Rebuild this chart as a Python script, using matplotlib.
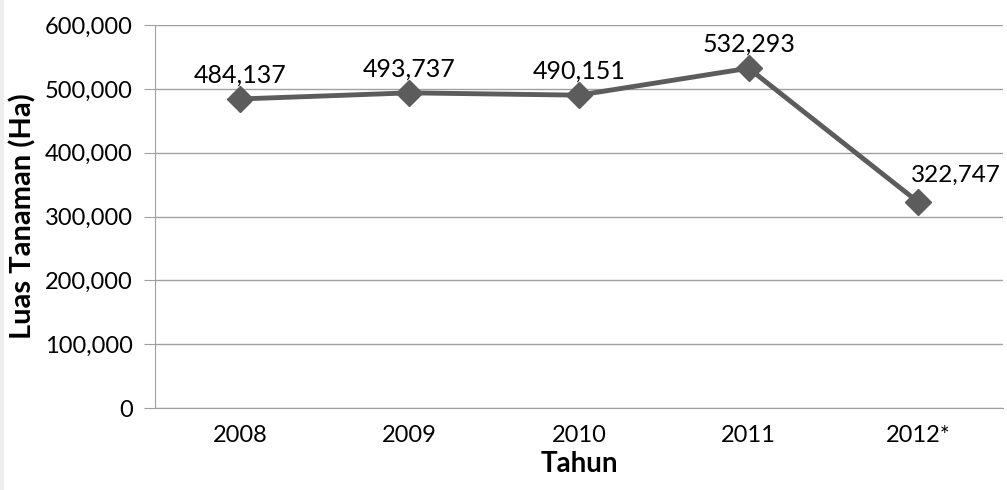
import matplotlib.pyplot as plt
from matplotlib.ticker import FuncFormatter

years = ["2008", "2009", "2010", "2011", "2012*"]
luas = [484137, 493737, 490151, 532293, 322747]
y_ticks = [0, 100000, 200000, 300000, 400000, 500000, 600000]

plt.rcParams['font.family'] = ['Lato', 'DejaVu Sans']

fig = plt.figure(figsize=(10.07, 4.9), dpi=100)
fig.patches.append(plt.Rectangle((0, 0), 0.003, 1, transform=fig.transFigure,
                                 color='#eeeeee', zorder=0))
ax = fig.add_axes([0.154, 0.167, 0.842, 0.782])

x = list(range(len(years)))
ax.plot(x, luas, color='#5c5c5c', linewidth=3.5, marker='D', markersize=13,
        zorder=3, clip_on=False)

for i, v in enumerate(luas):
    label = format(v, ',')
    if i == len(luas) - 1:
        # last label is pushed right of the point, like in the original
        ax.annotate(label, (i, v), xytext=(-5, 12), textcoords='offset points',
                    ha='left', va='bottom', fontsize=17.5)
    else:
        ax.annotate(label, (i, v), xytext=(0, 9), textcoords='offset points',
                    ha='center', va='bottom', fontsize=18)

ax.set_xlim(-0.5, len(years) - 0.5)
ax.set_ylim(0, 600000)
ax.set_xticks(x)
ax.set_xticklabels(years, fontsize=17)
ax.set_yticks(y_ticks)
ax.yaxis.set_major_formatter(FuncFormatter(lambda v, p: format(int(v), ',')))
ax.tick_params(axis='y', labelsize=17, length=8, color='#a0a0a0', pad=8)
ax.tick_params(axis='x', length=0, pad=12)

ax.grid(axis='y', color='#a0a0a0', linewidth=1)
ax.set_axisbelow(True)
for s in ['top', 'right']:
    ax.spines[s].set_visible(False)
ax.spines['left'].set_color('#a0a0a0')
ax.spines['bottom'].set_color('#a0a0a0')

ax.set_xlabel("Tahun", fontsize=20, fontweight='bold', labelpad=4)
ax.set_ylabel("Luas Tanaman (Ha)", fontsize=21, fontweight='bold', labelpad=6)

fig.savefig("out.png", dpi=100)
